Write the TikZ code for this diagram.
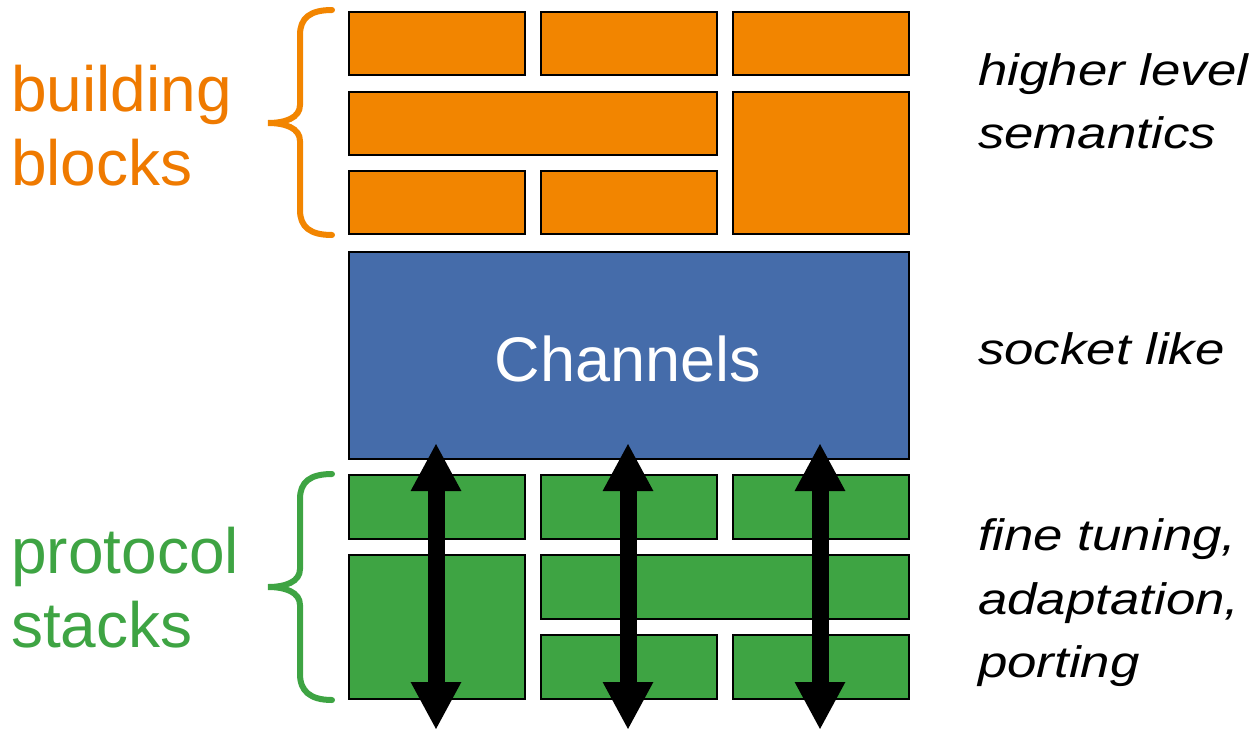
\documentclass[tikz,border=0pt]{standalone}
\usepackage{fontspec}
\setmainfont{Liberation Sans}
\newfontfamily\notefont[FakeStretch=1.2]{Liberation Sans}
\usetikzlibrary{arrows.meta}
\definecolor{orng}{HTML}{F28500}
\definecolor{orngtxt}{HTML}{EF7A00}
\definecolor{chblue}{HTML}{456CAA}
\definecolor{grn}{HTML}{3EA443}
\tikzset{
  blk/.style={draw=black, line width=1.5pt, inner sep=0pt, anchor=north west},
  oblk/.style={blk, fill=orng},
  gblk/.style={blk, fill=grn},
  lbl/.style={anchor=base west, inner sep=0pt, font=\fontsize{64}{74}\selectfont},
  note/.style={anchor=base west, inner sep=0pt, font=\notefont\fontsize{44}{62}\selectfont\itshape},
  brace/.style={line width=6pt, line cap=round},
  dbl/.style={line width=17pt, {Triangle[length=48pt,width=47pt]}-{Triangle[length=48pt,width=47pt]}},
}
\begin{document}
\begin{tikzpicture}[x=1pt,y=-1pt]
\useasboundingbox (0,0) rectangle (1258,731);

% building blocks (top layer)
\node[oblk, minimum width=176pt, minimum height=63pt] (o11) at (348,11) {};
\node[oblk, minimum width=176pt, minimum height=63pt] (o12) at (540,11) {};
\node[oblk, minimum width=176pt, minimum height=63pt] (o13) at (732,11) {};
\node[oblk, minimum width=368pt, minimum height=63pt] (o21) at (348,91) {};
\node[oblk, minimum width=176pt, minimum height=142pt] (o23) at (732,91) {};
\node[oblk, minimum width=176pt, minimum height=63pt] (o31) at (348,170) {};
\node[oblk, minimum width=176pt, minimum height=63pt] (o32) at (540,170) {};

% channel layer
\node[blk, fill=chblue, minimum width=560pt, minimum height=207pt] (ch) at (348,251) {};
\node[anchor=base, inner sep=0pt, text=white, font=\fontsize{63}{74}\selectfont] (chtxt) at (628,381) {Channels};

% protocol stacks (bottom layer)
\node[gblk, minimum width=176pt, minimum height=64pt] (g11) at (348,474) {};
\node[gblk, minimum width=176pt, minimum height=64pt] (g12) at (540,474) {};
\node[gblk, minimum width=176pt, minimum height=64pt] (g13) at (732,474) {};
\node[gblk, minimum width=176pt, minimum height=144pt] (g21) at (348,554) {};
\node[gblk, minimum width=368pt, minimum height=64pt] (g22) at (540,554) {};
\node[gblk, minimum width=176pt, minimum height=64pt] (g32) at (540,634) {};
\node[gblk, minimum width=176pt, minimum height=64pt] (g33) at (732,634) {};

% double-headed arrows through the stacks
\coordinate (a1t) at (436,443); \coordinate (a1b) at (436,730);
\coordinate (a2t) at (628,443); \coordinate (a2b) at (628,730);
\coordinate (a3t) at (820,443); \coordinate (a3b) at (820,730);
\draw[dbl] (a1t) -- (a1b);
\draw[dbl] (a2t) -- (a2b);
\draw[dbl] (a3t) -- (a3b);

% braces
\draw[brace, draw=orng] (332,10) .. controls (310,10) and (300,18) .. (300,35) -- (300,105)
  .. controls (300,118) and (285,123) .. (268,123) .. controls (285,123) and (300,128) .. (300,141)
  -- (300,210) .. controls (300,227) and (310,235) .. (332,235);
\begin{scope}[yshift=-464pt]
\draw[brace, draw=grn] (332,10) .. controls (310,10) and (300,18) .. (300,35) -- (300,105)
  .. controls (300,118) and (285,123) .. (268,123) .. controls (285,123) and (300,128) .. (300,141)
  -- (300,210) .. controls (300,227) and (310,236) .. (332,236);
\end{scope}

% left labels
\node[lbl, text=orngtxt] (bb1) at (11,111) {building};
\node[lbl, text=orngtxt] (bb2) at (11,185) {blocks};
\node[lbl, text=grn] (ps1) at (11,573) {protocol};
\node[lbl, text=grn] (ps2) at (11,647) {stacks};

% right notes
\node[note] (n1) at (978,85) {higher level};
\node[note] (n2) at (978,148) {semantics};
\node[note] (n3) at (978,364) {socket like};
\node[note] (n4) at (978,550) {fine tuning,};
\node[note] (n5) at (978,614) {adaptation,};
\node[note] (n6) at (978,677) {porting};
\end{tikzpicture}
\end{document}
